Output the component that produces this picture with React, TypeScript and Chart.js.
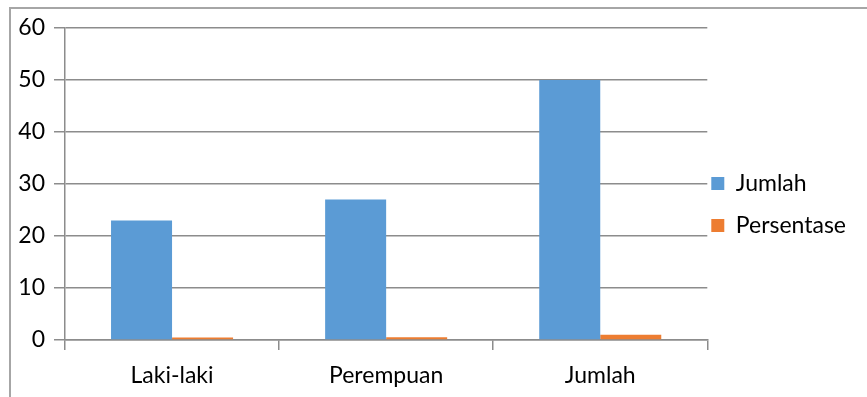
import React, { useEffect, useRef } from "react";
import { Chart, registerables } from "chart.js";

Chart.register(...registerables);

const categories = ["Laki-laki", "Perempuan", "Jumlah"];
const jumlahValues = [23, 27, 50];
const persentaseValues = [0.46, 0.54, 1];
const seriesLabels = ["Jumlah", "Persentase"];
const yTicks = { min: 0, max: 60, step: 10 };

const FONT = "Lato";
const GRID = "#8c8c8c";

const legendShift = {
  id: "legendShift",
  afterLayout(c: any) {
    if (c.legend) {
      c.legend.left -= 15;
      c.legend.right -= 15;
    }
  },
};

export default function App() {
  const ref = useRef<HTMLCanvasElement | null>(null);
  useEffect(() => {
    if (!ref.current) return;
    const chart = new Chart(ref.current, {
      type: "bar",
      plugins: [legendShift],
      data: {
        labels: categories,
        datasets: [
          {
            label: seriesLabels[0],
            data: jumlahValues,
            backgroundColor: "#5B9BD5",
            categoryPercentage: 0.57,
            barPercentage: 1,
          },
          {
            label: seriesLabels[1],
            data: persentaseValues,
            backgroundColor: "#ED7D31",
            categoryPercentage: 0.57,
            barPercentage: 1,
          },
        ],
      },
      options: {
        animation: false,
        responsive: false,
        maintainAspectRatio: false,
        layout: { padding: { top: 28, right: -4, bottom: 0, left: 0 } },
        plugins: {
          tooltip: { enabled: false },
          legend: {
            position: "right",
            fullSize: false,
            title: {
              display: true,
              text: "",
              padding: { top: 40, bottom: 0 },
              font: { family: FONT, size: 1 },
            },
            labels: {
              boxWidth: 13,
              boxHeight: 13,
              padding: 19,
              color: "#000",
              font: { family: FONT, size: 23 },
            },
          },
        },
        scales: {
          x: {
            afterFit: (s: any) => {
              s.height = 57;
            },
            grid: {
              offset: true,
              drawOnChartArea: false,
              drawTicks: true,
              tickLength: 10,
              color: GRID,
              lineWidth: 1.5,
            },
            border: { color: GRID, width: 1.5 },
            ticks: {
              color: "#000",
              padding: 12,
              font: { family: FONT, size: 23 },
            },
          },
          y: {
            min: yTicks.min,
            max: yTicks.max,
            afterFit: (s: any) => {
              s.width = 65;
            },
            ticks: {
              stepSize: yTicks.step,
              color: "#000",
              padding: 9,
              font: { family: FONT, size: 23 },
            },
            grid: {
              color: GRID,
              lineWidth: 1.5,
              tickLength: 11,
            },
            border: { color: GRID, width: 1.5 },
          },
        },
      },
    });
    return () => chart.destroy();
  }, []);
  return (
    <div style={{ position: "fixed", left: 0, top: 0, width: 867, height: 397, background: "#fff" }}>
      <div
        style={{
          position: "absolute",
          left: 9,
          top: 7,
          right: -10,
          bottom: -10,
          borderLeft: "2px solid #a6a6a6",
          borderTop: "2px solid #a6a6a6",
        }}
      />
      <canvas ref={ref} width={867} height={397} style={{ position: "absolute", left: 0, top: 0 }} />
    </div>
  );
}
